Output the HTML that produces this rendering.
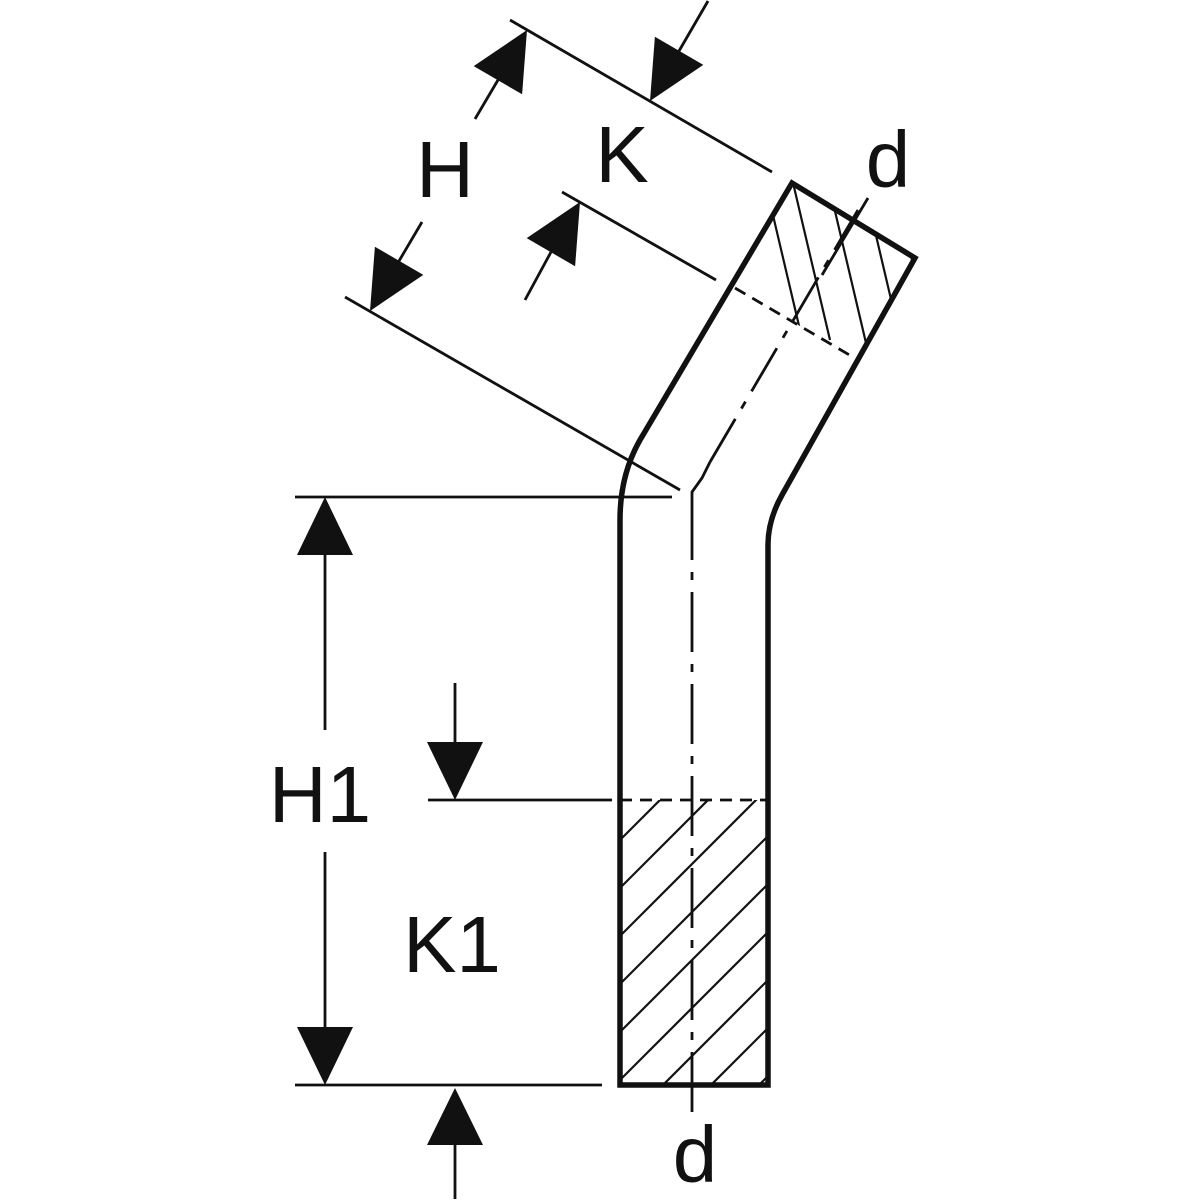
<!DOCTYPE html>
<html><head><meta charset="utf-8"><style>html,body{margin:0;padding:0;background:#fff;width:1200px;height:1200px;overflow:hidden;position:relative}svg{display:block;position:absolute;left:0;top:0}</style></head>
<body>
<svg width="1200" height="1200" viewBox="0 0 1200 1200" xmlns="http://www.w3.org/2000/svg">
<defs>
<clipPath id="cb"><rect x="620" y="800" width="148" height="285"/></clipPath>
<clipPath id="ct"><polygon points="792,183 915,258 858,360 735,288"/></clipPath>
</defs>
<rect width="1200" height="1200" fill="#fff"/>
<g stroke="#111" fill="none">
<g clip-path="url(#cb)" stroke-width="2.2">
<line x1="560" y1="900" x2="800" y2="660"/>
<line x1="560" y1="948" x2="800" y2="708"/>
<line x1="560" y1="996" x2="800" y2="756"/>
<line x1="560" y1="1044" x2="800" y2="804"/>
<line x1="560" y1="1092" x2="800" y2="852"/>
<line x1="560" y1="1140" x2="800" y2="900"/>
<line x1="600" y1="1148" x2="800" y2="948"/>
<line x1="650" y1="1146" x2="800" y2="996"/>
<line x1="700" y1="1144" x2="800" y2="1044"/>
</g>
<g clip-path="url(#ct)" stroke-width="2.2">
<line x1="760" y1="160" x2="800" y2="330"/>
<line x1="790" y1="170" x2="830" y2="340"/>
<line x1="830" y1="190" x2="870" y2="360"/>
<line x1="870" y1="210" x2="910" y2="380"/>
<line x1="905" y1="230" x2="945" y2="400"/>
</g>
<line x1="600" y1="800" x2="768" y2="800" stroke-width="2.8" stroke-dasharray="12,8"/>
<line x1="735" y1="288" x2="858" y2="360" stroke-width="2.8" stroke-dasharray="12,8"/>
<line x1="692" y1="1112" x2="692" y2="500" stroke-width="2.8" stroke-dasharray="60,12,8,12"/>
<path d="M692,500 L692,492 L702,478 L710,462" stroke-width="2.8"/>
<line x1="710" y1="462" x2="858" y2="210" stroke-width="2.8" stroke-dasharray="50,12,8,12"/>
<path d="M640,440 L792,183 L915,258 L782,495 Q768,520 768,545 L768,1085 L620,1085 L620,520 Q620,475 640,440 Z" stroke-width="5.5" stroke-linejoin="miter"/>
<g stroke-width="2.8">
<line x1="295" y1="497" x2="672" y2="497"/>
<line x1="295" y1="1085" x2="602" y2="1085"/>
<line x1="428" y1="800" x2="600" y2="800"/>
<line x1="510" y1="20" x2="772" y2="172"/>
<line x1="562" y1="192" x2="716" y2="280"/>
<line x1="345" y1="297" x2="680" y2="490"/>
<line x1="325" y1="555" x2="325" y2="730"/>
<line x1="325" y1="852" x2="325" y2="1027"/>
<line x1="455" y1="683" x2="455" y2="745"/>
<line x1="455" y1="1143" x2="455" y2="1199"/>
<line x1="498" y1="80" x2="475" y2="119"/>
<line x1="399" y1="261" x2="422" y2="222"/>
<line x1="679" y1="51" x2="708" y2="1"/>
<line x1="551" y1="252" x2="525" y2="300"/>
<line x1="868" y1="198" x2="822" y2="275"/>
</g>
</g>
<g fill="#111">
<polygon points="325,497 297,555 353,555"/>
<polygon points="325,1085 297,1027 353,1027"/>
<polygon points="455,800 427,742 483,742"/>
<polygon points="455,1088 427,1145 483,1145"/>
<polygon points="527,30 522.1,94.3 473.7,66.1"/>
<polygon points="370,311 423.3,274.9 374.9,246.7"/>
<polygon points="650,101 703.3,64.9 654.9,36.7"/>
<polygon points="580,202 575.1,266.3 526.7,238.1"/>
</g>
<g font-family="Liberation Sans, sans-serif" font-size="80" fill="#111" text-anchor="middle">
<text x="445" y="197">H</text>
<text x="622" y="182">K</text>
<text x="888" y="187">d</text>
<text x="320" y="822">H1</text>
<text x="452" y="972">K1</text>
<text x="695" y="1182">d</text>
</g>
</svg>
</body></html>
